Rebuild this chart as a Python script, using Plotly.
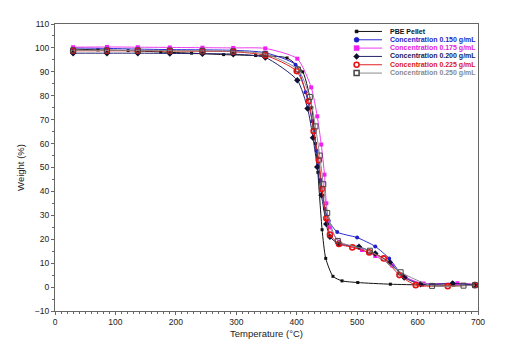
import plotly.graph_objects as go

# TGA curves (temperature in °C, weight in %)
pellet_t = [30, 71, 121, 175, 226, 279, 332, 384, 410, 425, 431, 435, 442, 448, 460, 475, 501, 555, 608, 660, 695]
pellet_w = [99.5, 99.2, 98.9, 98.3, 97.8, 97.2, 96.8, 95.8, 90, 75, 60, 48, 24, 12, 4.5, 2.6, 1.9, 1.2, 0.9, 0.8, 0.7]

c150_t = [30, 86, 137, 190, 244, 295, 348, 398, 414.6, 425.6, 433, 439.5, 446.6, 453, 467, 500, 530, 553, 575, 605, 658, 695]
c150_w = [100, 99.8, 99.5, 99.3, 99.2, 99, 98, 93, 81.5, 69.3, 57, 44.8, 32.8, 27.7, 23, 20.7, 17, 12, 5, 1.5, 1.6, 1.0]

c175_t = [30, 86, 137, 190, 244, 295, 348, 401, 424, 434, 440.6, 446, 449, 455, 470, 508, 530, 558, 580, 610, 666, 695]
c175_w = [100.3, 100.4, 100.3, 100.2, 100.1, 100, 99.8, 95.5, 83.5, 71.4, 59.6, 47, 35, 25, 19, 15.5, 13, 9, 4, 1.5, 1.6, 1.2]

c200_t = [30, 86, 137, 190, 244, 295, 348, 401, 418, 427, 434, 441, 449, 455, 470, 503, 530, 554, 578, 605, 658, 695]
c200_w = [97.8, 97.8, 97.8, 97.7, 97.6, 97.4, 96, 86.5, 74.7, 62.4, 50.2, 38.4, 26.4, 21, 18, 16.9, 14, 10.3, 4, 1.2, 1.5, 1.0]

c225_t = [30, 86, 137, 190, 244, 295, 348, 400, 420, 428, 436.7, 442, 449, 455, 470, 492, 520, 544, 570, 597, 650, 695]
c225_w = [98.8, 98.8, 98.8, 98.7, 98.6, 98.4, 96.9, 90.3, 77.7, 65.2, 53, 41, 28.8, 22, 18, 16.6, 14.5, 12, 5, 0.8, 0.4, 0.8]

c250_t = [30, 86, 137, 190, 244, 295, 348, 402, 421.7, 431, 438, 444, 450.5, 468, 521, 572, 624, 676, 695]
c250_w = [99, 99, 99, 98.9, 98.8, 98.6, 97.5, 91, 79.5, 67.2, 55, 43, 31, 19.3, 15.2, 6.2, 0.5, 0.6, 0.8]

# name, x, y, line colour, legend text colour, marker style, legend glyph
series = [
    ("PBE Pellet", pellet_t, pellet_w, "#111111", "#111111",
     dict(symbol="square", size=3, color="#111111"), ("rect", 3, "#111111", True)),
    ("Concentration 0.150 g/mL", c150_t, c150_w, "#2b2bd6", "#1f1fc8",
     dict(symbol="circle", size=4, color="#1f1fc8"), ("circle", 5, "#1f1fc8", True)),
    ("Concentration 0.175 g/mL", c175_t, c175_w, "#f03cf0", "#e020e0",
     dict(symbol="square", size=4, color="#f020f0"), ("rect", 5, "#f020f0", True)),
    ("Concentration 0.200 g/mL", c200_t, c200_w, "#22226a", "#1a1a5a",
     dict(symbol="diamond", size=5, color="#101030"), ("diamond", 6, "#101030", True)),
    ("Concentration 0.225 g/mL", c225_t, c225_w, "#e02020", "#d81818",
     dict(symbol="circle-open", size=5, color="#e81010", line=dict(width=1.6)), ("circle", 5, "#e81010", False)),
    ("Concentration 0.250 g/mL", c250_t, c250_w, "#8a8a8a", "#8a8a8a",
     dict(symbol="square-open", size=5, color="#444444", line=dict(width=1)), ("rect", 5, "#444444", False)),
]

fig = go.Figure()
for name, t, w, line_col, text_col, marker, glyph in series:
    fig.add_trace(go.Scatter(
        x=t, y=w, name=name, mode="lines+markers", showlegend=False,
        line=dict(color=line_col, width=1, shape="spline", smoothing=0.6),
        marker=marker,
    ))

# compact legend like the original (plotly's own legend rows are too tall)
row_top, row_gap = 0.974, 0.029
line_x0, line_x1, text_x = 0.709, 0.773, 0.787
shapes, annotations = [], []
for i, (name, t, w, line_col, text_col, marker, glyph) in enumerate(series):
    yy = row_top - i * row_gap
    shapes.append(dict(type="line", xref="paper", yref="paper", x0=line_x0, x1=line_x1, y0=yy, y1=yy,
                       line=dict(color=line_col, width=1)))
    kind, size, col, filled = glyph
    h = size / 2
    common = dict(xref="paper", yref="paper", xsizemode="pixel", ysizemode="pixel",
                  xanchor=line_x0 + 0.004, yanchor=yy,
                  line=dict(color=col, width=1.5 if not filled else 0.5),
                  fillcolor=col if filled else "white")
    if kind == "diamond":
        shapes.append(dict(type="path", path=f"M0,{h} L{h},0 L0,{-h} L{-h},0 Z", **common))
    else:
        shapes.append(dict(type=kind, x0=-h, x1=h, y0=-h, y1=h, **common))
    annotations.append(dict(
        xref="paper", yref="paper", x=text_x, y=yy, xanchor="left", yanchor="middle",
        text=f"<b>{name}</b>", showarrow=False,
        font=dict(size=7, color=text_col, family="Liberation Sans, Arial, sans-serif"),
    ))

axis_common = dict(
    showgrid=False, zeroline=False, showline=True, linecolor="#666666", linewidth=1,
    mirror=True, ticks="outside", ticklen=3, tickcolor="#666666",
    tickfont=dict(size=8.5, color="#222222"),
)

fig.update_layout(
    width=499, height=341,
    margin=dict(l=47, r=29, t=11, b=36),
    paper_bgcolor="white", plot_bgcolor="white",
    font=dict(family="Liberation Sans, Arial, sans-serif", color="#222222"),
    showlegend=False,
    xaxis=dict(
        range=[0, 700], dtick=100,
        title=dict(text="Temperature (°C)", font=dict(size=9.5), standoff=4),
        minor=dict(dtick=10, ticks="outside", ticklen=2, tickcolor="#666666"),
        **axis_common,
    ),
    yaxis=dict(
        range=[-10, 110], dtick=10,
        title=dict(text="Weight (%)", font=dict(size=9.5), standoff=8),
        minor=dict(dtick=5, ticks="outside", ticklen=2, tickcolor="#666666"),
        **axis_common,
    ),
    shapes=shapes,
    annotations=annotations,
)

fig.write_html("out.html")
